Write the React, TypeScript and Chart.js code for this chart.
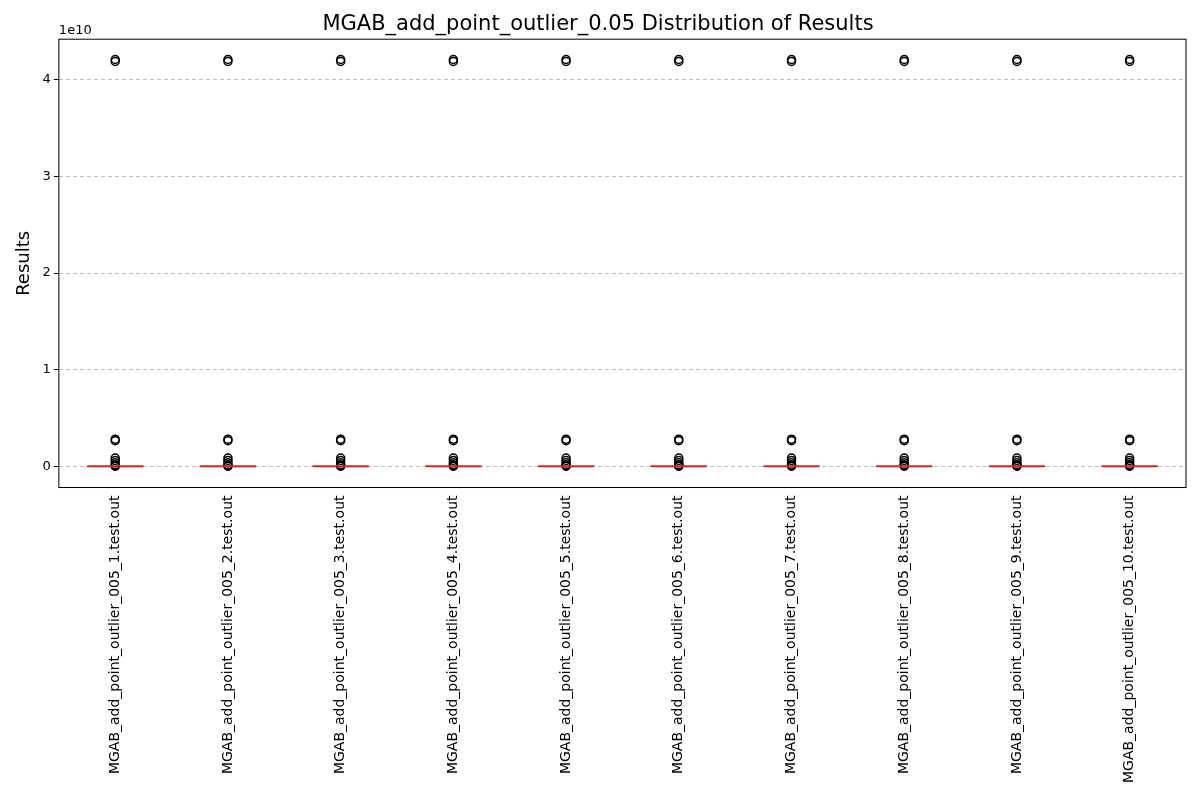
import React, { useEffect, useRef } from 'react';
import Chart from 'chart.js/auto';

const labels = Array.from({ length: 10 }, (_, i) => `MGAB_add_point_outlier_005_${i + 1}.test.out`);
// outlier values (same shape for every file)
const outlierValues = [4.21e10, 4.19e10, 2.8e9, 2.65e9, 8.5e8, 6e8, 3.5e8, 1.5e8, 5e7, 0];
const medians = [1e7, 1e7, 1e7, 1e7, 1e7, 1e7, 1e7, 1e7, 1e7, 1e7];
const boxHalfWidth = 0.25;

const frame = {
  id: 'frame',
  afterDraw(chart: any) {
    const { ctx, chartArea: a } = chart;
    ctx.save();
    ctx.strokeStyle = '#000';
    ctx.lineWidth = 1;
    ctx.strokeRect(a.left, a.top, a.right - a.left, a.bottom - a.top);
    ctx.font = '13px "DejaVu Sans"';
    ctx.fillStyle = '#000';
    ctx.textBaseline = 'bottom';
    ctx.fillText('1e10', a.left, a.top - 2);
    ctx.restore();
  },
};

const App: React.FC = () => {
  const ref = useRef<HTMLCanvasElement>(null);
  useEffect(() => {
    if (!ref.current) return;
    const outliers = labels.flatMap((_, i) => outlierValues.map((v) => ({ x: i + 1, y: v })));
    const medianSets = medians.map((m, i) => ({
      type: 'line' as const,
      data: [{ x: i + 1 - boxHalfWidth, y: m }, { x: i + 1 + boxHalfWidth, y: m }],
      borderColor: '#d62728',
      borderWidth: 2,
      pointRadius: 0,
      showLine: true,
    }));
    const chart = new Chart(ref.current, {
      type: 'scatter',
      data: {
        datasets: [
          ...medianSets,
          {
            data: outliers,
            pointRadius: 4,
            pointBorderWidth: 1.5,
            pointBorderColor: '#000',
            pointBackgroundColor: 'rgba(0,0,0,0)',
          },
        ] as any,
      },
      options: {
        animation: false,
        responsive: false,
        layout: { padding: { top: 0, right: 14, left: 10, bottom: 14 } },
        plugins: {
          legend: { display: false },
          tooltip: { enabled: false },
          title: {
            display: true,
            text: 'MGAB_add_point_outlier_0.05 Distribution of Results',
            font: { size: 21, family: 'DejaVu Sans', weight: 'normal' },
            color: '#000',
            padding: { top: 12, bottom: 2 },
          },
        },
        scales: {
          x: {
            type: 'linear',
            min: 0.5,
            max: 10.5,
            afterBuildTicks: (s: any) => { s.ticks = labels.map((_, i) => ({ value: i + 1 })); },
            ticks: {
              callback: (v: any) => labels[Number(v) - 1] ?? '',
              minRotation: 90,
              maxRotation: 90,
              autoSkip: false,
              color: '#000',
              font: { size: 14, family: 'DejaVu Sans' },
            },
            grid: { display: false, tickLength: 5, drawTicks: true },
            border: { display: false },
          },
          y: {
            min: -2.2e9,
            max: 4.42e10,
            afterBuildTicks: (s: any) => { s.ticks = [0, 1e10, 2e10, 3e10, 4e10].map((value) => ({ value })); },
            ticks: {
              callback: (v: any) => String(Number(v) / 1e10),
              color: '#000',
              font: { size: 13, family: 'DejaVu Sans' },
            },
            grid: { color: 'rgba(0,0,0,0.25)', tickColor: '#000', tickLength: 5, drawTicks: true },
            border: { display: false, dash: [4, 3] },
            title: {
              display: true,
              text: 'Results',
              color: '#000',
              font: { size: 18, family: 'DejaVu Sans' },
            },
          },
        },
      },
      plugins: [frame],
    });
    return () => chart.destroy();
  }, []);
  return (
    <div style={{ margin: -8 }}>
      <canvas ref={ref} width={1200} height={800} />
    </div>
  );
};

export default App;
